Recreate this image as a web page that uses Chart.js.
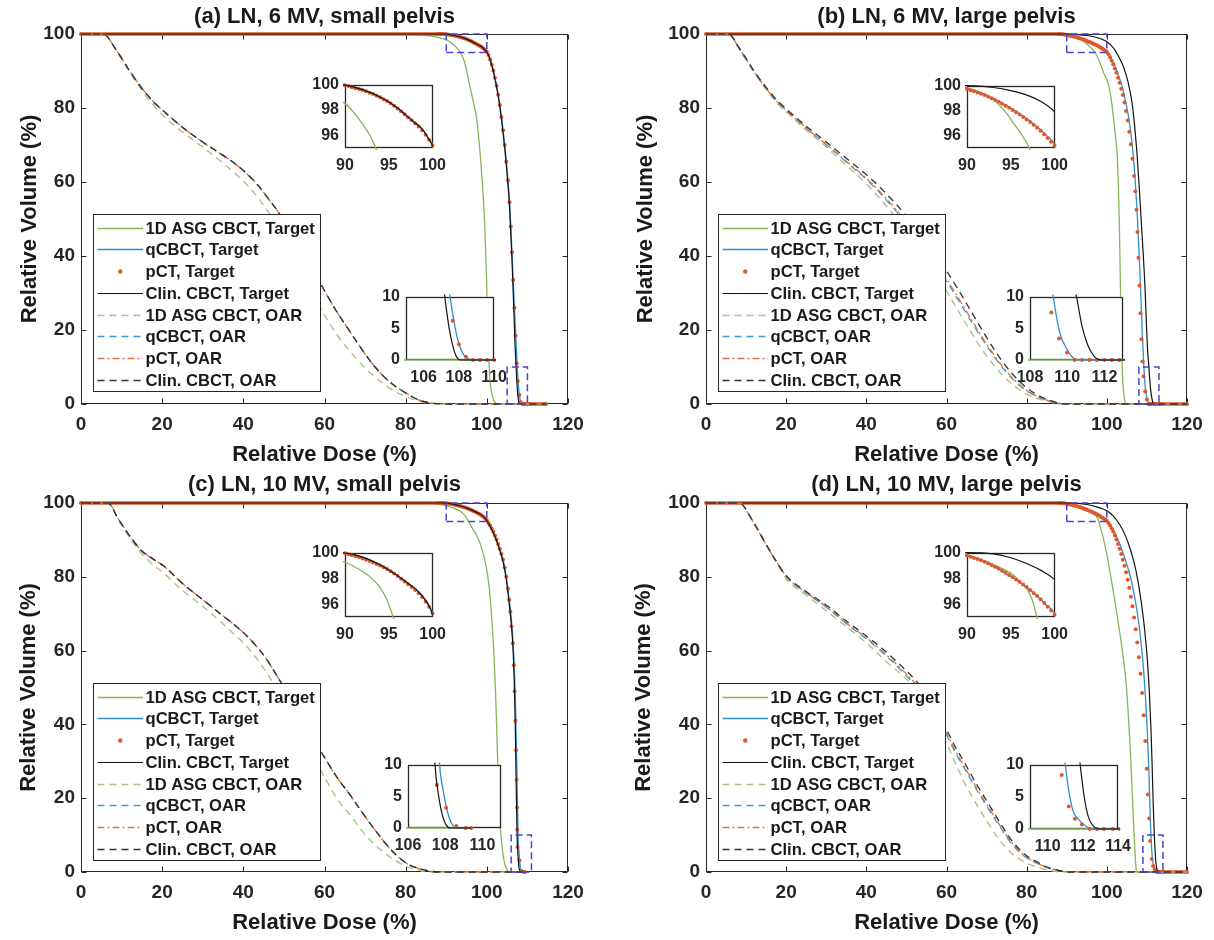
<!DOCTYPE html>
<html>
<head>
<meta charset="utf-8">
<script src="https://cdn.jsdelivr.net/npm/chart.js@4.4.1/dist/chart.umd.min.js"></script>
<style>
  html, body { margin: 0; padding: 0; background: #fff; width: 1214px; height: 940px; overflow: hidden; }
  canvas { position: absolute; }
</style>
</head>
<body>
<script>
// ---------------- data: dose (%) / volume (%) pairs ----------------
const seriesLabels = ['1D ASG CBCT, Target', 'qCBCT, Target', 'pCT, Target', 'Clin. CBCT, Target',
                      '1D ASG CBCT, OAR', 'qCBCT, OAR', 'pCT, OAR', 'Clin. CBCT, OAR'];
const panelTitles = ['(a) LN, 6 MV, small pelvis', '(b) LN, 6 MV, large pelvis',
                     '(c) LN, 10 MV, small pelvis', '(d) LN, 10 MV, large pelvis'];

const mainXTicks = [0, 20, 40, 60, 80, 100, 120];
const mainYTicks = [0, 20, 40, 60, 80, 100];
const topInsetXTicks = [90, 95, 100];
const topInsetYTicks = [96, 98, 100];
const lowInsetYTicks = [0, 5, 10];
const aLowInsetXTicks = [106, 108, 110];
const bLowInsetXTicks = [108, 110, 112];
const cLowInsetXTicks = [106, 108, 110];
const dLowInsetXTicks = [110, 112, 114];

// zoom windows [dose min, dose max, volume min, volume max]
const topWindow = [90, 100, 95, 100];
const aLowWindow = [105, 110, 0, 10];
const bLowWindow = [108, 113, 0, 10];
const cLowWindow = [106, 111, 0, 10];
const dLowWindow = [109, 114, 0, 10];

// (a) 6 MV, small pelvis
const aAsgTarget = [[0,100],[80,100],[84,99.8],[87,99.3],[90,98.5],[91,97.8],[92,96.9],[93,95.8],[93.5,95],[94.5,92.5],[95.8,86],[96.8,81],[97.5,77],[98.4,67],[99,58],[99.5,48],[99.9,35],[100.2,22],[100.5,12],[100.8,6],[101.2,3],[101.7,1],[102.3,0.2],[102.8,0],[114.6,0]];
const aQcbctTarget = [[0,100],[89,100],[90,99.96],[92,99.6],[94,99.02],[96,98.15],[97,97.55],[98,96.97],[98.5,96.72],[99,96.35],[99.5,95.8],[100,95.25],[100.8,93.3],[101.6,90.2],[102.4,86.1],[103.2,80.9],[104,74.1],[104.8,65.6],[105.6,54.6],[106.2,41],[106.7,28.5],[107.1,19],[107.5,10],[107.7,6.5],[107.9,3.6],[108.1,1.8],[108.3,0.7],[108.6,0.1],[108.9,0],[114.6,0]];
const aPctTarget = [[0,100],[88,100],[88.4,100],[88.8,100],[89.2,100],[89.6,99.98],[90,99.95],[90.4,99.88],[90.8,99.8],[91.2,99.72],[91.6,99.65],[92,99.57],[92.4,99.47],[92.8,99.36],[93.2,99.25],[93.6,99.13],[94,99],[94.4,98.85],[94.8,98.7],[95.2,98.52],[95.6,98.33],[96,98.12],[96.4,97.9],[96.8,97.66],[97.2,97.42],[97.6,97.18],[98,96.95],[98.4,96.7],[98.8,96.4],[99.2,96.05],[99.6,95.65],[100,95.2],[100.4,94.3],[100.8,93.1],[101.2,91.7],[101.6,90.1],[102,88.2],[102.4,86],[102.8,83.6],[103.2,80.8],[103.6,77.6],[104,74],[104.4,70],[104.8,65.5],[105.2,60.5],[105.6,54.5],[105.9,48],[106.2,41],[106.5,33.5],[106.8,26],[107.1,18.5],[107.4,11],[107.65,6.2],[108,2.5],[108.4,0.5],[108.8,0],[109.2,0],[109.6,0],[110,0],[110.4,0],[114.6,0]];
const aClinTarget = [[0,100],[89,100],[90,99.96],[92,99.6],[94,99.02],[96,98.15],[97,97.55],[98,96.97],[98.5,96.7],[99,96.3],[99.5,95.75],[100,95.15],[100.8,93.1],[101.6,89.9],[102.4,85.7],[103.2,80.3],[104,73.3],[104.8,64.5],[105.6,53],[106.2,39],[106.6,27],[106.95,16],[107.2,10],[107.45,5],[107.65,2.3],[107.85,0.6],[108.1,0],[114.6,0]];
const aAsgOar = [[0,100],[5.5,100],[6.5,99.3],[8,96.8],[10,93.2],[12,89.7],[14,86.3],[16,83.2],[18,80.6],[20,78.2],[25,73.5],[30,69.4],[35,65.1],[38,62.3],[40,60.2],[42,57.9],[44,55.2],[46,52.2],[48,48.8],[52,40.8],[56,32.2],[60.3,23.5],[63,18.8],[66.5,14],[69.5,10.3],[72.3,7.4],[76,4.3],[80,2],[83.8,0.6],[87,0.1],[90,0],[114.6,0]];
const aClinOar = [[0,100],[5.5,100],[6.5,99.3],[8,96.8],[10,93.5],[12,90],[14,86.8],[16,84],[18,81.5],[20,79.5],[25,74.8],[30,70.8],[35,67.2],[38,64.9],[40,63.1],[42,61],[44,58.6],[46,55.7],[48.8,51.6],[52,46],[55,40.5],[57.5,35.6],[59.8,31],[63,25],[66.5,19.2],[69.5,14.3],[72.3,10.2],[76,6],[80,3],[83,1.2],[86,0.3],[89,0],[114.6,0]];
const aQcbctOar = aClinOar;
const aPctOar = aClinOar;

// (b) 6 MV, large pelvis
const bAsgTarget = [[0,100],[88,100],[90,99.8],[91,99.6],[92,99.3],[93,98.9],[93.7,98.4],[94.5,97.8],[95.3,97],[96.3,96],[97.1,95],[98,93],[99.2,89.5],[100.5,86],[101.2,81.5],[101.7,77],[102.2,72],[102.6,67],[102.9,58],[103.1,50],[103.3,38],[103.5,25],[103.7,15],[103.9,8],[104.2,3],[104.5,0.8],[104.8,0],[120,0]];
const bQcbctTarget = [[0,100],[88,100],[90,99.75],[92,99.27],[94,98.6],[96,97.75],[98,96.7],[99,96.05],[100,95.3],[101,93.6],[102,91.3],[103,88.5],[103.8,85.9],[104.7,81.6],[105.5,77],[106.1,72.3],[106.6,67],[107.1,60],[107.6,51],[108.1,39.5],[108.5,29],[108.85,19],[109.25,10],[109.6,4.3],[109.95,1.9],[110.3,0.4],[110.6,0],[120,0]];
const bPctTarget = [[0,100],[88,100],[88.4,100],[88.8,99.96],[89.2,99.91],[89.6,99.82],[90,99.72],[90.4,99.63],[90.8,99.54],[91.2,99.45],[91.6,99.35],[92,99.24],[92.4,99.12],[92.8,98.99],[93.2,98.85],[93.6,98.7],[94,98.55],[94.4,98.39],[94.8,98.22],[95.2,98.05],[95.6,97.87],[96,97.68],[96.4,97.49],[96.8,97.29],[97.2,97.08],[97.6,96.86],[98,96.63],[98.4,96.38],[98.8,96.1],[99.2,95.8],[99.6,95.5],[100,95.2],[100.4,94.5],[100.8,93.7],[101.2,92.8],[101.6,91.8],[102,90.7],[102.4,89.5],[102.8,88.2],[103.2,86.8],[103.6,85.2],[104,83.5],[104.4,81.5],[104.8,79.2],[105.2,76.6],[105.6,73.6],[106,70.2],[106.4,66.3],[106.8,61.6],[107.1,57.5],[107.4,52.5],[107.65,46.5],[107.9,39.5],[108.15,32],[108.4,24.5],[108.65,17.5],[108.9,11.5],[109.15,7.5],[109.56,3.4],[109.99,1.2],[110.4,0],[110.8,0],[111.2,0],[111.6,0],[112,0],[112.4,0],[112.8,0],[113.2,0],[120,0]];
const bClinTarget = [[0,100],[90,100],[93,99.85],[95,99.6],[97,99.2],[98.5,98.7],[100,97.9],[101,97],[102,95.7],[103,93.8],[103.8,92],[104.8,89],[105.6,85.5],[106.3,81.3],[106.9,75.5],[107.5,68],[108,60],[108.5,51],[109,42],[109.5,32],[109.9,21],[110.2,14],[110.5,10],[110.8,5.3],[111.1,2.4],[111.5,0.4],[111.8,0],[120,0]];
const bAsgOar = [[0,100],[5.5,100],[6.5,99.2],[8,96.5],[10,93],[12,89.6],[15,85],[18,81],[20,79],[25,74],[30,69.5],[35,64.5],[40,59.5],[45,53.5],[50,46.8],[55,39],[60,30.5],[63,25],[66,19.7],[70,13],[74,7.8],[78,4],[82,1.7],[86,0.5],[89,0],[120,0]];
const bQcbctOar = [[0,100],[5.5,100],[6.5,99.2],[8,96.6],[10,93.2],[12,89.8],[15,85.3],[18,81.4],[20,79.4],[25,74.5],[30,70.1],[35,65.4],[40,60.7],[45,55.1],[50,48.7],[55,41.2],[60,33.2],[63,28],[66,22.6],[70,15.8],[74,9.8],[78,5.2],[82,2.3],[86,0.7],[90,0],[120,0]];
const bPctOar = [[0,100],[5.5,100],[6.5,99.2],[8,96.6],[10,93.2],[12,89.8],[15,85.3],[18,81.4],[20,79.4],[25,74.6],[30,70.2],[35,65.6],[40,61],[45,55.5],[50,49.2],[55,41.8],[60,33.8],[63,28.6],[66,23.2],[70,16.2],[74,10.1],[78,5.4],[82,2.4],[86,0.7],[90,0],[120,0]];
const bClinOar = [[0,100],[5.5,100],[6.5,99.3],[8,96.7],[10,93.4],[12,90],[15,85.6],[18,81.8],[20,79.8],[25,75.1],[30,70.8],[35,66.4],[40,62],[45,56.8],[50,50.8],[55,43.7],[60,36],[63,30.8],[66,25.3],[70,18],[74,11.4],[78,6.3],[82,2.9],[86,0.9],[90,0],[120,0]];

// (c) 10 MV, small pelvis
const cAsgTarget = [[0,100],[86,100],[88,99.7],[90,99.25],[91.5,98.75],[92.7,98.2],[94,97.3],[94.8,96.3],[95.4,95.2],[96.5,93],[97.5,91.2],[98.8,87.5],[99.8,83],[100.6,77],[101.2,69],[101.7,60],[102.1,50],[102.4,40],[102.7,29],[103,19],[103.4,11],[103.9,5.5],[104.4,2.2],[105,0.5],[105.5,0],[109.4,0]];
const cQcbctTarget = [[0,100],[89,100],[90,99.97],[92,99.65],[94,99.05],[96,98.2],[97,97.7],[98,97.2],[98.5,96.9],[99,96.5],[99.5,96],[100,95.3],[101,93.5],[102,91.2],[103,88.2],[104,84.7],[104.8,80],[105.5,74],[106,69],[106.4,63.5],[106.8,55],[107.1,44],[107.35,31],[107.55,19],[107.7,10],[107.9,5.8],[108.1,2.8],[108.3,1],[108.5,0.2],[108.8,0],[109.4,0]];
const cPctTarget = [[0,100],[88,100],[88.4,100],[88.8,100],[89.2,100],[89.6,99.98],[90,99.95],[90.4,99.88],[90.8,99.8],[91.2,99.72],[91.6,99.64],[92,99.55],[92.4,99.45],[92.8,99.35],[93.2,99.24],[93.6,99.12],[94,99],[94.4,98.86],[94.8,98.72],[95.2,98.56],[95.6,98.38],[96,98.18],[96.4,97.97],[96.8,97.76],[97.2,97.55],[97.6,97.33],[98,97.1],[98.4,96.85],[98.8,96.55],[99.2,96.2],[99.6,95.8],[100,95.3],[100.4,94.6],[100.8,93.9],[101.2,93.1],[101.6,92.2],[102,91.2],[102.4,90.1],[102.8,88.9],[103.2,87.6],[103.6,86.2],[104,84.7],[104.4,82.5],[104.8,80],[105.2,76.8],[105.5,73.8],[105.8,70.5],[106.1,66.5],[106.4,62],[106.65,56],[106.85,49],[107.05,41],[107.2,33],[107.35,25],[107.45,17.5],[107.5,11.5],[107.55,6.8],[108.05,3.2],[108.6,0.3],[109.1,0],[109.4,0]];
const cClinTarget = [[0,100],[89,100],[90,99.97],[92,99.65],[94,99.05],[96,98.2],[97,97.7],[98,97.2],[98.5,96.85],[99,96.45],[99.5,95.95],[100,95.2],[101,93.3],[102,90.9],[103,87.8],[104,84.1],[104.8,79.2],[105.5,72.8],[106,67.5],[106.4,61.5],[106.75,52],[107,40],[107.2,26],[107.35,16],[107.45,10],[107.65,5],[107.85,2],[108.05,0.5],[108.3,0],[109.4,0]];
const cAsgOar = [[0,100],[6.5,100],[7.5,99.2],[8.8,96.3],[10.5,93.2],[12.5,89.8],[15,86.2],[17.5,83.5],[20.4,81],[25,76.3],[30,72],[35,67.2],[38,64.2],[40.1,62],[42,59.6],[44,56.8],[46,53.6],[48,50],[50,46.3],[53,40.3],[56.5,33],[60.3,25.1],[63,20],[66.5,15.2],[69.5,10.8],[72.3,7.5],[76,4.2],[80,1.6],[83.8,0.3],[86,0],[109.4,0]];
const cClinOar = [[0,100],[6.5,100],[7.5,99.2],[8.8,96.4],[10.5,93.5],[12.5,90.3],[15,87],[17.5,85],[20.4,82.9],[25,78.2],[30,73.8],[35,69.4],[38,66.8],[40.1,64.8],[42,62.7],[44,60.2],[46,57.2],[48,53.7],[50,50],[52,46.2],[55,40.5],[57.5,35.6],[59.8,31.4],[63,25.8],[66.5,20.6],[69.5,15.8],[72.3,11.6],[76,6.5],[80,2.5],[83,1],[85.8,0.3],[88,0],[109.4,0]];
const cQcbctOar = cClinOar;
const cPctOar = cClinOar;

// (d) 10 MV, large pelvis
const dAsgTarget = [[0,100],[86,100],[88,99.95],[90,99.8],[92,99.35],[94,98.75],[95.2,98.3],[96.2,97.6],[96.9,97.1],[97.5,96.2],[97.9,95.2],[99,91],[100,86],[101,80],[102,73.5],[103,66.5],[104,59],[104.9,50],[105.5,40],[106,30],[106.4,20],[106.8,10],[107.1,4],[107.3,0.8],[107.5,0],[120,0]];
const dQcbctTarget = [[0,100],[88,100],[90,99.8],[92,99.3],[94,98.55],[96,97.7],[98,96.65],[99,95.95],[100,95.3],[101.5,93],[103,89.5],[104.5,85],[105.5,81.5],[106.5,77],[107.5,71],[108.3,64.5],[109,57],[109.6,48],[110.1,38],[110.5,27],[110.8,16],[111,10],[111.4,3.2],[111.76,1.5],[112.2,0.4],[112.6,0],[120,0]];
const dPctTarget = [[0,100],[88,100],[88.4,100],[88.8,99.96],[89.2,99.91],[89.6,99.84],[90,99.76],[90.4,99.68],[90.8,99.59],[91.2,99.5],[91.6,99.4],[92,99.29],[92.4,99.17],[92.8,99.04],[93.2,98.9],[93.6,98.76],[94,98.6],[94.4,98.44],[94.8,98.27],[95.2,98.1],[95.6,97.92],[96,97.73],[96.4,97.53],[96.8,97.32],[97.2,97.1],[97.6,96.87],[98,96.63],[98.4,96.37],[98.8,96.1],[99.2,95.8],[99.6,95.5],[100,95.2],[100.4,94.6],[100.8,93.9],[101.2,93.1],[101.6,92.2],[102,91.2],[102.4,90.1],[102.8,88.9],[103.2,87.6],[103.6,86.2],[104,84.6],[104.4,83],[104.8,81.2],[105.2,79.2],[105.6,77],[106,74.6],[106.4,72],[106.8,69],[107.2,65.8],[107.6,62.2],[108,58.2],[108.4,53.7],[108.8,48.5],[109.2,42.5],[109.6,35.5],[109.95,28],[110.25,21],[110.55,14.5],[110.8,8.4],[111.2,3.5],[111.55,1.6],[111.95,0.7],[112.4,0],[112.8,0],[113.2,0],[113.7,0],[114.1,0],[120,0]];
const dClinTarget = [[0,100],[90,100],[93,99.9],[95,99.6],[97,99.1],[98.5,98.6],[100,97.9],[101.5,96.6],[103,94.5],[104.5,91.5],[106,87],[107.2,82],[108.2,76],[109.2,68],[110,59],[110.6,49],[111,39],[111.3,29],[111.55,19],[111.85,10],[112.1,4.6],[112.3,2],[112.55,0.6],[112.9,0],[120,0]];
const dAsgOar = [[0,100],[8.5,100],[9.5,99],[11,96.2],[13,92.4],[15,88.5],[17.5,84],[20.2,79.2],[25,75],[30,70.8],[35,66.5],[40,62.1],[45,57],[50.8,51.3],[55,45],[59.6,35.9],[62,30],[64.5,24.2],[67.5,18.3],[70.3,13.4],[73,9],[76.1,5.2],[79.5,2.7],[83,1.2],[86,0.4],[89,0],[120,0]];
const dQcbctOar = [[0,100],[8.5,100],[9.5,99],[11,96.3],[13,92.6],[15,88.7],[17.5,84.2],[20.2,79.8],[25,75.6],[30.4,71.4],[35,67.3],[40.1,63.1],[44,59.5],[47.9,55.5],[52.8,49.8],[56,45],[59.6,38],[62,32.8],[64.5,28],[67.5,22.3],[70.3,17.4],[73,12.8],[76.1,7.9],[79.5,4.2],[83,2.1],[86,0.8],[89,0.2],[90,0],[120,0]];
const dPctOar = [[0,100],[8.5,100],[9.5,99],[11,96.3],[13,92.6],[15,88.7],[17.5,84.2],[20.2,79.9],[25,75.7],[30.4,71.6],[35,67.5],[40.1,63.4],[44,59.8],[47.9,55.9],[52.8,50.3],[56,45.5],[59.6,38.5],[62,33.3],[64.5,28.5],[67.5,22.8],[70.3,17.8],[73,13.2],[76.1,8.2],[79.5,4.4],[83,2.2],[86,0.9],[89,0.2],[90,0],[120,0]];
const dClinOar = [[0,100],[8.5,100],[9.5,99],[11,96.4],[13,92.7],[15,88.8],[17.5,84.3],[20.2,80.1],[25,76],[30.4,72],[35,68],[40.1,63.9],[44,60.5],[47.9,56.7],[52.8,51.3],[56,46.5],[59.6,39.5],[62,34.3],[64.5,29.6],[67.5,23.8],[70.3,18.8],[73,14],[76.1,8.8],[79.5,4.8],[83,2.5],[86,1],[88.8,0.3],[90,0],[120,0]];

// ---------------- look ----------------
const FONT = '"Liberation Sans", Arial, Helvetica, sans-serif';
const INK = '#262626';
const BOX_COLOR = '#4646cc';
const seriesStyles = [
  { color: '#86b55a', width: 1.3, dash: [] },
  { color: '#2f8fcf', width: 1.3, dash: [] },
  { color: '#e0582a', dots: true },
  { color: '#141414', width: 1.2, dash: [] },
  { color: '#b7bd86', width: 1.4, dash: [7, 5] },
  { color: '#3a9ad6', width: 1.3, dash: [7, 5] },
  { color: '#d8733a', width: 1.3, dash: [7, 3, 2, 3] },
  { color: '#333333', width: 1.3, dash: [7, 5] }
];

const panels = [
  { series: [aAsgTarget, aQcbctTarget, aPctTarget, aClinTarget, aAsgOar, aQcbctOar, aPctOar, aClinOar],
    title: panelTitles[0], canvas: { x: 0, y: 0, w: 607, h: 470 }, plot: { l: 81, t: 34, r: 568, b: 404 },
    titleY: 17, yTitleX: 30, xTitleY: 455, xTickY: 425,
    insets: [
      { box: { l: 345, t: 79, r: 438, b: 148 }, win: topWindow, xt: topInsetXTicks, yt: topInsetYTicks },
      { box: { l: 406, t: 291, r: 499, b: 360 }, win: aLowWindow, xt: aLowInsetXTicks, yt: lowInsetYTicks }] },
  { series: [bAsgTarget, bQcbctTarget, bPctTarget, bClinTarget, bAsgOar, bQcbctOar, bPctOar, bClinOar],
    title: panelTitles[1], canvas: { x: 620, y: 0, w: 594, h: 470 }, plot: { l: 706, t: 34, r: 1187, b: 404 },
    titleY: 17, yTitleX: 646, xTitleY: 455, xTickY: 425,
    insets: [
      { box: { l: 967, t: 80, r: 1060, b: 148 }, win: topWindow, xt: topInsetXTicks, yt: topInsetYTicks },
      { box: { l: 1030, t: 291, r: 1123, b: 360 }, win: bLowWindow, xt: bLowInsetXTicks, yt: lowInsetYTicks }] },
  { series: [cAsgTarget, cQcbctTarget, cPctTarget, cClinTarget, cAsgOar, cQcbctOar, cPctOar, cClinOar],
    title: panelTitles[2], canvas: { x: 0, y: 470, w: 607, h: 470 }, plot: { l: 81, t: 503, r: 568, b: 872 },
    titleY: 485, yTitleX: 29, xTitleY: 923, xTickY: 893,
    insets: [
      { box: { l: 345, t: 547, r: 438, b: 617 }, win: topWindow, xt: topInsetXTicks, yt: topInsetYTicks },
      { box: { l: 408, t: 759, r: 501, b: 828 }, win: cLowWindow, xt: cLowInsetXTicks, yt: lowInsetYTicks }] },
  { series: [dAsgTarget, dQcbctTarget, dPctTarget, dClinTarget, dAsgOar, dQcbctOar, dPctOar, dClinOar],
    title: panelTitles[3], canvas: { x: 620, y: 470, w: 594, h: 470 }, plot: { l: 706, t: 503, r: 1187, b: 872 },
    titleY: 485, yTitleX: 644, xTitleY: 923, xTickY: 893,
    insets: [
      { box: { l: 967, t: 547, r: 1060, b: 617 }, win: topWindow, xt: topInsetXTicks, yt: topInsetYTicks },
      { box: { l: 1030, t: 759, r: 1123, b: 829 }, win: dLowWindow, xt: dLowInsetXTicks, yt: lowInsetYTicks }] }
];

// ---------------- helpers ----------------
const toPoints = list => list.map(([x, y]) => ({ x, y }));
const rectPoints = ([x0, x1, y0, y1]) => [{ x: x0, y: y0 }, { x: x1, y: y0 }, { x: x1, y: y1 }, { x: x0, y: y1 }, { x: x0, y: y0 }];
const fixedTicks = arr => axis => { axis.ticks = arr.map(v => ({ value: v })); };

function addCanvas(r) {
  const c = document.createElement('canvas');
  c.width = r.w; c.height = r.h;
  c.style.left = r.x + 'px'; c.style.top = r.y + 'px';
  c.style.width = r.w + 'px'; c.style.height = r.h + 'px';
  document.body.appendChild(c);
  return c;
}

// axes box with inward tick marks (drawn beneath the data)
const framePlugin = {
  id: 'frame',
  beforeDatasetsDraw(chart, args, o) {
    const { ctx, chartArea: a, scales: { x, y } } = chart;
    const L = Math.round(a.left) + 0.5, R = Math.round(a.right) - 0.5;
    const T = Math.round(a.top) + 0.5, B = Math.round(a.bottom) - 0.5;
    ctx.save();
    if (o.fill) { ctx.fillStyle = '#ffffff'; ctx.fillRect(a.left, a.top, a.right - a.left, a.bottom - a.top); }
    ctx.strokeStyle = INK; ctx.lineWidth = o.lineWidth; ctx.setLineDash([]);
    ctx.strokeRect(L, T, R - L, B - T);
    if (o.tickLen) {
      ctx.beginPath();
      x.ticks.forEach(t => {
        const px = Math.round(x.getPixelForValue(t.value)) + 0.5;
        ctx.moveTo(px, B); ctx.lineTo(px, B - o.tickLen);
        ctx.moveTo(px, T); ctx.lineTo(px, T + o.tickLen);
      });
      y.ticks.forEach(t => {
        const py = Math.round(y.getPixelForValue(t.value)) + 0.5;
        ctx.moveTo(L, py); ctx.lineTo(L + o.tickLen, py);
        ctx.moveTo(R, py); ctx.lineTo(R - o.tickLen, py);
      });
      ctx.stroke();
    }
    ctx.restore();
  }
};

// boxed legend inside the plot area
const legendPlugin = {
  id: 'dvhLegend',
  afterDatasetsDraw(chart, args, o) {
    if (!o.show) return;
    const { ctx, chartArea: a } = chart;
    const left = a.left + o.dx, top = a.top + o.dy;
    ctx.save();
    ctx.fillStyle = '#ffffff';
    ctx.fillRect(left, top, o.w, o.h);
    ctx.strokeStyle = INK; ctx.lineWidth = 1; ctx.setLineDash([]);
    ctx.strokeRect(Math.round(left) + 0.5, Math.round(top) + 0.5, o.w, o.h);
    ctx.font = 'bold 16.6px ' + FONT;
    ctx.textBaseline = 'middle'; ctx.textAlign = 'left';
    chart.data.datasets.filter(d => d.inLegend).forEach((d, i) => {
      const st = d.look;
      const yy = Math.round(top + o.firstRow + i * o.rowStep) + 0.5;
      const x0 = left + 4.5, x1 = left + 50;
      if (st.dots) {
        ctx.fillStyle = st.color;
        ctx.beginPath(); ctx.arc((x0 + x1) / 2, yy, 2.2, 0, Math.PI * 2); ctx.fill();
      } else {
        ctx.strokeStyle = st.color; ctx.lineWidth = st.width; ctx.setLineDash(st.dash);
        ctx.beginPath(); ctx.moveTo(x0, yy); ctx.lineTo(x1, yy); ctx.stroke();
        ctx.setLineDash([]);
      }
      ctx.fillStyle = '#1a1a1a';
      ctx.fillText(d.label, left + 52.5, yy + 0.5);
    });
    ctx.restore();
  }
};

// panel heading centred over the plot area
const titlePlugin = {
  id: 'panelTitle',
  afterDraw(chart, args, o) {
    if (!o.text) return;
    const { ctx, chartArea: a } = chart;
    ctx.save();
    ctx.font = 'bold 22px ' + FONT;
    ctx.fillStyle = '#1a1a1a';
    ctx.textAlign = 'center'; ctx.textBaseline = 'middle';
    ctx.fillText(o.text, (a.left + a.right) / 2, o.y);
    ctx.restore();
  }
};

function curveDataset(list, i, forInset) {
  const st = seriesStyles[i];
  const base = { label: seriesLabels[i], data: toPoints(list), order: 30 - i, inLegend: !forInset, look: st,
                 clip: forInset ? 2 : false };
  if (st.dots) {
    return Object.assign(base, {
      showLine: !forInset, tension: 0, borderWidth: 3.6, borderColor: st.color,
      segment: { borderColor: c => (c.p0.parsed.y === c.p1.parsed.y ? st.color : 'rgba(0,0,0,0)') },
      pointRadius: 2, pointHoverRadius: 2, pointBackgroundColor: st.color, pointBorderWidth: 0
    });
  }
  return Object.assign(base, {
    showLine: true, borderColor: st.color, borderWidth: st.width, borderDash: st.dash,
    cubicInterpolationMode: 'monotone', pointRadius: 0, pointHoverRadius: 0
  });
}

function boxDataset(win) {
  return { data: rectPoints(win), showLine: true, borderColor: BOX_COLOR, borderWidth: 1.5,
           borderDash: [7, 4], pointRadius: 0, order: 0, clip: false, inLegend: false };
}

function makeMain(p) {
  const C = p.canvas, P = p.plot;
  const tickFont = { family: FONT, size: 19, weight: 'bold' };
  const titleFont = { family: FONT, size: 22, weight: 'bold', lineHeight: 1.2 };
  const datasets = p.series.map((list, i) => curveDataset(list, i, false));
  p.insets.forEach(ins => datasets.push(boxDataset(ins.win)));
  new Chart(addCanvas(C).getContext('2d'), {
    type: 'scatter',
    data: { datasets },
    options: {
      responsive: false, animation: false, devicePixelRatio: 1, events: [],
      layout: { padding: { top: P.t - C.y, right: C.x + C.w - P.r, left: 0, bottom: 0 } },
      scales: {
        x: {
          type: 'linear', min: mainXTicks[0], max: mainXTicks[mainXTicks.length - 1],
          afterBuildTicks: fixedTicks(mainXTicks),
          grid: { display: false, drawTicks: false }, border: { display: false },
          ticks: { color: INK, font: tickFont, padding: p.xTickY - P.b - 11.4, maxRotation: 0 },
          title: { display: true, text: 'Relative Dose (%)', color: '#1a1a1a', font: titleFont,
                   padding: { top: 0, bottom: C.y + C.h - p.xTitleY - 13.2 } },
          afterFit: s => { s.height = C.y + C.h - P.b; }
        },
        y: {
          type: 'linear', min: mainYTicks[0], max: mainYTicks[mainYTicks.length - 1],
          afterBuildTicks: fixedTicks(mainYTicks),
          grid: { display: false, drawTicks: false }, border: { display: false },
          ticks: { color: INK, font: tickFont, padding: 6 },
          title: { display: true, text: 'Relative Volume (%)', color: '#1a1a1a', font: titleFont,
                   padding: { top: p.yTitleX - C.x - 13.2, bottom: 0 } },
          afterFit: s => { s.width = P.l - C.x; }
        }
      },
      plugins: {
        legend: { display: false }, tooltip: { enabled: false },
        frame: { lineWidth: 1, tickLen: 5, fill: false },
        dvhLegend: { show: true, dx: 12, dy: 180, w: 227, h: 177, firstRow: 13.7, rowStep: 21.75 },
        panelTitle: { text: p.title, y: p.titleY - C.y }
      }
    },
    plugins: [framePlugin, legendPlugin, titlePlugin]
  });
}

function makeInset(p, ins) {
  const B = ins.box;
  const C = { x: B.l - 46, y: B.t - 10, w: B.r - B.l + 62, h: B.b - B.t + 40 };
  const tickFont = { family: FONT, size: 16, weight: 'bold' };
  const datasets = p.series.slice(0, 4).map((list, i) => curveDataset(list, i, true));
  new Chart(addCanvas(C).getContext('2d'), {
    type: 'scatter',
    data: { datasets },
    options: {
      responsive: false, animation: false, devicePixelRatio: 1, events: [],
      layout: { padding: { top: B.t - C.y, right: C.x + C.w - B.r, left: 0, bottom: 0 } },
      scales: {
        x: {
          type: 'linear', min: ins.win[0], max: ins.win[1], afterBuildTicks: fixedTicks(ins.xt),
          grid: { display: false, drawTicks: false }, border: { display: false },
          ticks: { color: INK, font: tickFont, padding: 8, maxRotation: 0 },
          afterFit: s => { s.height = C.y + C.h - B.b; }
        },
        y: {
          type: 'linear', min: ins.win[2], max: ins.win[3], afterBuildTicks: fixedTicks(ins.yt),
          grid: { display: false, drawTicks: false }, border: { display: false },
          ticks: { color: INK, font: tickFont, padding: 6 },
          afterFit: s => { s.width = B.l - C.x; }
        }
      },
      plugins: {
        legend: { display: false }, tooltip: { enabled: false },
        frame: { lineWidth: 1.3, tickLen: 0, fill: true },
        dvhLegend: { show: false }, panelTitle: { text: '' }
      }
    },
    plugins: [framePlugin, legendPlugin, titlePlugin]
  });
}

panels.forEach(makeMain);
panels.forEach(p => p.insets.forEach(ins => makeInset(p, ins)));
</script>
</body>
</html>
